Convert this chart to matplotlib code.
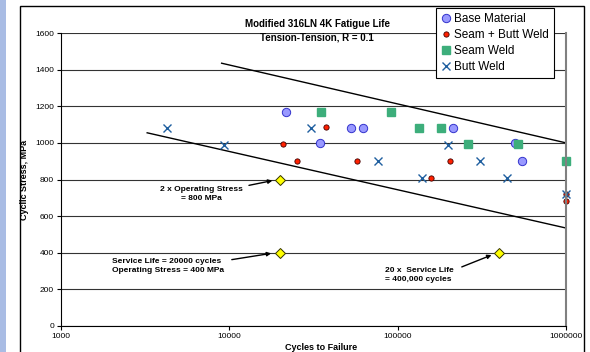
import matplotlib
matplotlib.use('Agg')
import matplotlib.pyplot as plt
from matplotlib.patches import Rectangle

plt.rcParams['font.family'] = ['Liberation Sans', 'DejaVu Sans']

# datos
base_x = [21700, 34600, 52800, 62200, 213000, 499000, 548000]
base_y = [1170, 1000, 1080, 1080, 1080, 1000, 900]

seam_butt_x = [20800, 25200, 37600, 57400, 158000, 205000, 1000000, 1000000]
seam_butt_y = [995, 900, 1085, 900, 810, 900, 720, 680]

seam_x = [35100, 91400, 134000, 181000, 262000, 519000, 1000000]
seam_y = [1170, 1170, 1080, 1080, 995, 995, 900]

butt_x = [4270, 9310, 30600, 76600, 140000, 200000, 309000, 447000, 1000000]
butt_y = [1080, 990, 1080, 900, 810, 990, 900, 810, 720]

upper_x = [9000, 1000000]
upper_y = [1435, 1000]
lower_x = [3250, 1000000]
lower_y = [1055, 535]

design_x = [20000, 20000, 400000]
design_y = [800, 400, 400]

yticks = [0, 200, 400, 600, 800, 1000, 1200, 1400, 1600]
xticks = [1000, 10000, 100000, 1000000]

fig = plt.figure(figsize=(5.9, 3.52), dpi=100)
fig.patch.set_facecolor('white')

# franja azul a la izquierda y marco del grafico
fig.patches.append(Rectangle((0, 0), 6 / 590, 1, transform=fig.transFigure,
                             facecolor='#A9BCE4', edgecolor='none', zorder=0))
fig.patches.append(Rectangle((20 / 590, -0.05), 564 / 590, 1 - 5.5 / 352 + 0.05,
                             transform=fig.transFigure, facecolor='none',
                             edgecolor='black', linewidth=1.0, zorder=1))

ax = fig.add_axes([61 / 590, 1 - 326 / 352, 505 / 590, 293 / 352])
ax.set_xscale('log')
ax.set_xlim(1000, 1000000)
ax.set_ylim(0, 1600)
ax.set_yticks(yticks)
ax.set_xticks(xticks)
ax.set_xticklabels([str(t) for t in xticks])
ax.xaxis.set_minor_locator(matplotlib.ticker.NullLocator())
ax.tick_params(labelsize=6, length=3, width=0.8, pad=2)
ax.grid(axis='y', color='#333333', linewidth=0.8)
ax.set_axisbelow(True)

ax.spines['top'].set_visible(False)
ax.spines['right'].set_color('#808080')
ax.spines['right'].set_linewidth(1.5)

# lineas de tendencia
ax.plot(upper_x, upper_y, color='black', linewidth=1.0, clip_on=False)
ax.plot(lower_x, lower_y, color='black', linewidth=1.0, clip_on=False)

ax.plot(base_x, base_y, 'o', color='#9999FF', markeredgecolor='#3333CC',
        markersize=6, markeredgewidth=0.7, label='Base Material', clip_on=False)
ax.plot(seam_x, seam_y, 's', color='#3DAE7B', markeredgecolor='#3DAE7B',
        markersize=6, label='Seam Weld', clip_on=False)
ax.plot(seam_butt_x, seam_butt_y, 'o', color='#FF2000', markeredgecolor='#400000',
        markersize=3.8, markeredgewidth=0.6, label='Seam + Butt Weld', clip_on=False)
ax.plot(butt_x, butt_y, 'x', color='#1F5F9F', markersize=6,
        markeredgewidth=1.0, label='Butt Weld', clip_on=False)
ax.plot(design_x, design_y, 'D', color='#FFFF00', markeredgecolor='#333300',
        markersize=5, markeredgewidth=0.7, zorder=5)

# leyenda en el orden original
h, l = ax.get_legend_handles_labels()
order = [0, 2, 1, 3]
leg = fig.legend([h[i] for i in order], [l[i] for i in order],
                 loc='upper left', bbox_to_anchor=(436 / 590, 1 - 8 / 352),
                 fontsize=8.5, frameon=True, fancybox=False, framealpha=1,
                 edgecolor='black', handlelength=0.8, handletextpad=0.3,
                 borderpad=0.45, labelspacing=0.32, borderaxespad=0)
leg.get_frame().set_linewidth(0.8)

ax.text(0.507, 1.031, 'Modified 316LN 4K Fatigue Life', transform=ax.transAxes,
        ha='center', va='center', fontsize=7, fontweight='bold')
ax.text(0.507, 0.983, 'Tension-Tension, R = 0.1', transform=ax.transAxes,
        ha='center', va='center', fontsize=7, fontweight='bold')

ax.set_xlabel('Cycles to Failure', fontsize=6.5, fontweight='bold')
ax.xaxis.set_label_coords(0.515, -0.058)
ax.set_ylabel('Cyclic Stress, MPa', fontsize=6.5, fontweight='bold')
ax.yaxis.set_label_coords(-0.063, 0.5)

# anotaciones
arr = dict(arrowstyle='-|>', color='black', lw=1.0, mutation_scale=6)
ax.text(6790, 721, '2 x Operating Stress\n= 800 MPa', ha='center', va='center',
        fontsize=6, fontweight='bold', linespacing=1.5)
ax.annotate('', xy=(18700, 797), xytext=(12600, 765), arrowprops=arr)

ax.text(2010, 328, 'Service Life = 20000 cycles\nOperating Stress = 400 MPa',
        ha='left', va='center', fontsize=6, fontweight='bold', linespacing=1.5)
ax.annotate('', xy=(18400, 399), xytext=(9960, 360), arrowprops=arr)

ax.text(84100, 279, '20 x  Service Life\n= 400,000 cycles', ha='left', va='center',
        fontsize=6, fontweight='bold', linespacing=1.5)
ax.annotate('', xy=(374000, 393), xytext=(232000, 317), arrowprops=arr)

fig.savefig('out.png', dpi=100)
